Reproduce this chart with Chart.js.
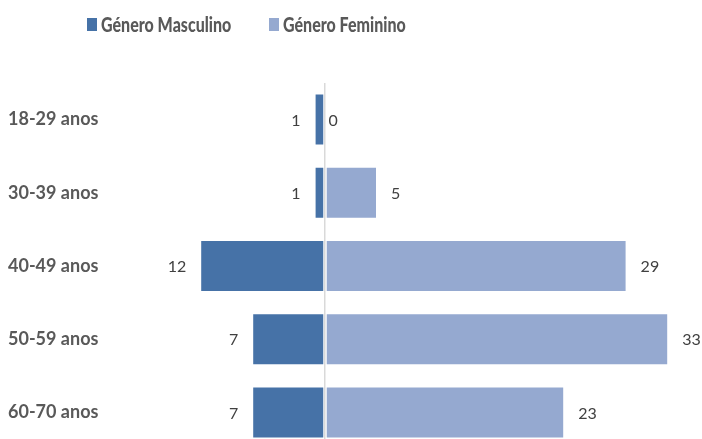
<!DOCTYPE html>
<html lang="pt">
<head>
<meta charset="utf-8">
<title>Género por faixa etária</title>
<script src="https://cdn.jsdelivr.net/npm/chart.js@4/dist/chart.umd.min.js"></script>
<style>
  html, body { margin: 0; padding: 0; background: #fff; overflow: hidden; }
  #wrap { position: relative; width: 702px; height: 449px; }
  #pyramid { display: block; }
  .legend { position: absolute; top: 13px; left: 87px; font-family: Lato, "Open Sans", sans-serif; font-weight: bold; font-size: 20px; line-height: 22px; color: #595959; }
  .legend .item { position: absolute; top: 0; display: flex; align-items: center; white-space: nowrap; }
  .legend i { display: inline-block; width: 10px; height: 13px; margin-right: 4px; flex: none; }
  .legend b { display: inline-block; transform: scaleX(0.8); transform-origin: left center; }
</style>
</head>
<body>
<div id="wrap">
  <div class="legend">
    <div class="item" style="left:0"><i style="background:#4672A7"></i><b>Género Masculino</b></div>
    <div class="item" style="left:182px"><i style="background:#95A9D0"></i><b>Género Feminino</b></div>
  </div>
  <canvas id="pyramid" width="702" height="449"></canvas>
</div>
<script>
// Age groups and counts per gender
const ageGroups = ['18-29 anos', '30-39 anos', '40-49 anos', '50-59 anos', '60-70 anos'];
const maleCounts = [1, 1, 12, 7, 7];
const femaleCounts = [0, 5, 29, 33, 23];

const maleColor = '#4672A7';
const femaleColor = '#95A9D0';

// Draws the count next to the end of every bar
const valueLabels = {
    id: 'valueLabels',
    afterDatasetsDraw(chart) {
        const ctx = chart.ctx;
        ctx.save();
        ctx.font = '16px Lato, "Open Sans", sans-serif';
        ctx.fillStyle = '#404040';
        ctx.textBaseline = 'middle';
        chart.data.datasets.forEach((ds, i) => {
            const meta = chart.getDatasetMeta(i);
            meta.data.forEach((bar, j) => {
                const v = Math.abs(ds.data[j]);
                if (ds.data[j] < 0) {
                    ctx.textAlign = 'right';
                    ctx.fillText(v, bar.x - 14, bar.y + 1);
                } else {
                    ctx.textAlign = 'left';
                    ctx.fillText(v, bar.x + 14, bar.y + 1);
                }
            });
        });
        ctx.restore();
    }
};

new Chart(document.getElementById('pyramid'), {
    type: 'bar',
    data: {
        labels: ageGroups,
        datasets: [
            {
                label: 'Género Masculino',
                data: maleCounts.map(v => -v),
                backgroundColor: maleColor,
                borderColor: 'rgba(255,255,255,0.35)',
                borderWidth: 1,
                borderSkipped: false
            },
            {
                label: 'Género Feminino',
                data: femaleCounts,
                backgroundColor: femaleColor,
                borderColor: 'rgba(255,255,255,0.35)',
                borderWidth: 1,
                borderSkipped: false
            }
        ]
    },
    options: {
        indexAxis: 'y',
        responsive: false,
        animation: false,
        layout: { padding: { top: 83, left: 8, right: 13, bottom: 0 } },
        datasets: { bar: { categoryPercentage: 1, barPercentage: 0.71 } },
        plugins: { legend: { display: false }, tooltip: { enabled: false } },
        scales: {
            x: {
                stacked: true,
                min: -20,
                max: 35,
                ticks: { display: false, stepSize: 5 },
                border: { display: false },
                afterFit: s => { s.height = 0; },
                grid: {
                    drawTicks: false,
                    lineWidth: 1.5,
                    color: c => c.tick && c.tick.value === 0 ? '#D9D9D9' : 'transparent'
                }
            },
            y: {
                stacked: true,
                border: { display: false },
                grid: { display: false, drawTicks: false },
                afterFit: s => {
                    s.width = 109;
                    s.paddingTop = 0;
                    s.paddingBottom = 0;
                },
                ticks: {
                    crossAlign: 'far',
                    color: '#595959',
                    font: { family: 'Lato, "Open Sans", sans-serif', size: 18, weight: 'bold' }
                }
            }
        }
    },
    plugins: [valueLabels]
});
</script>
</body>
</html>
